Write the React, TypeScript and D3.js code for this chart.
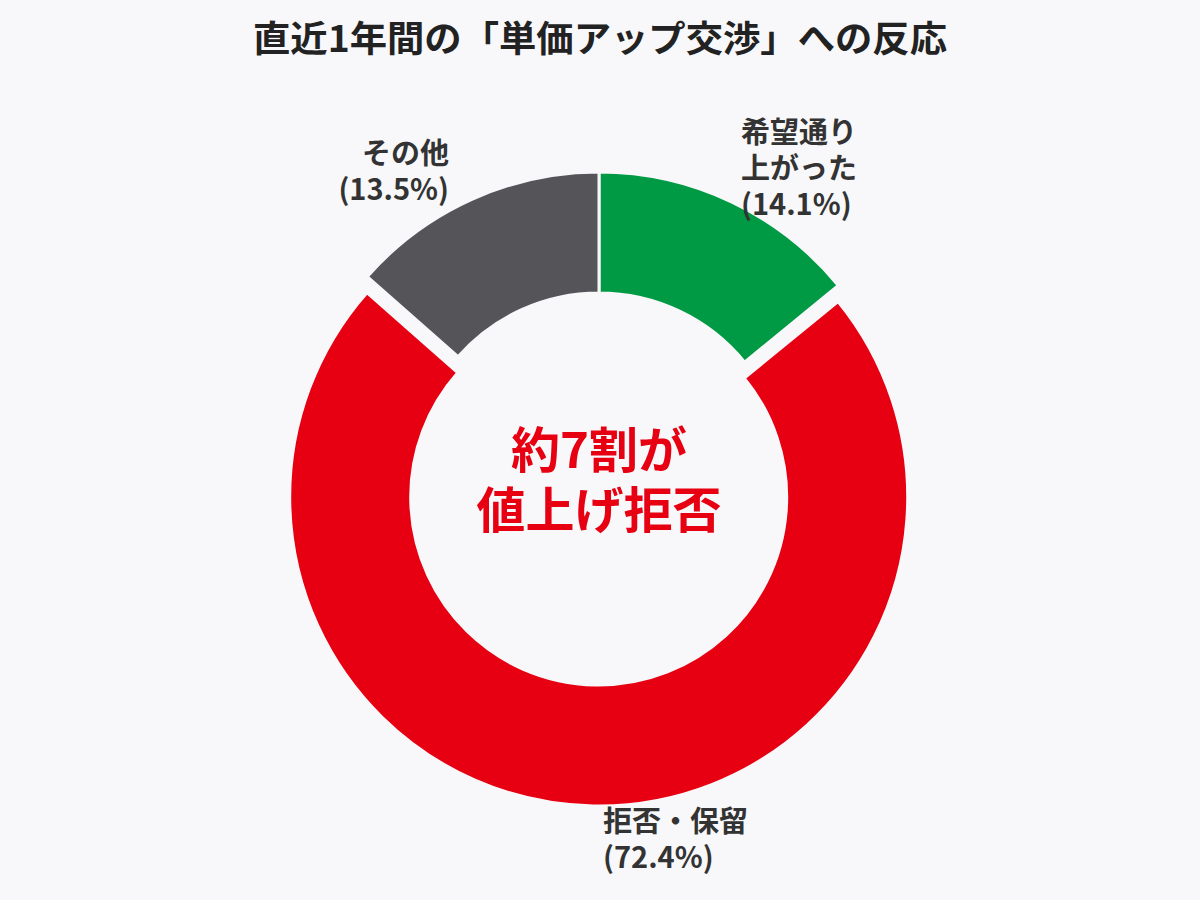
import { useEffect, useRef } from "react";
import * as d3 from "d3";

// slices clockwise from 12 o'clock
const categories = ["希望通り上がった", "拒否・保留", "その他"];
const labelLines = [["希望通り", "上がった"], ["拒否・保留"], ["その他"]];
const values = [14.1, 72.4, 13.5];
const colors = ["#009944", "#e60012", "#555458"];
const centerLines = ["約7割が", "値上げ拒否"];
const title = "直近1年間の「単価アップ交渉」への反応";

const W = 1200;
const H = 900;
const BG = "#f8f8fa";
const FONT = "'Noto Sans CJK JP', 'Noto Sans', sans-serif";

type Slice = { name: string; value: number; color: string; lines: string[] };

export default function App(): JSX.Element {
  const ref = useRef<SVGSVGElement | null>(null);

  useEffect(() => {
    if (!ref.current) return;
    const svg = d3.select(ref.current);
    svg.selectAll("*").remove();

    svg.append("rect").attr("width", W).attr("height", H).attr("fill", BG);

    svg
      .append("text")
      .attr("x", 600)
      .attr("y", 52)
      .attr("text-anchor", "middle")
      .attr("font-family", FONT)
      .attr("font-weight", 700)
      .attr("font-size", 36)
      .attr("textLength", 694)
      .attr("lengthAdjust", "spacingAndGlyphs")
      .attr("fill", "#222")
      .text(title);

    const data: Slice[] = categories.map((name, i) => ({
      name,
      value: values[i],
      color: colors[i],
      lines: labelLines[i],
    }));

    const cx = 599;
    const cy = 481;
    const outer = 309;
    const inner = 188;
    const pull = 16; // the red slice is pulled out

    const pie = d3
      .pie<Slice>()
      .sort(null)
      .value((d) => d.value);
    const arcs = pie(data);
    const arc = d3.arc<d3.PieArcDatum<Slice>>().innerRadius(inner).outerRadius(outer);

    const g = svg.append("g").attr("transform", `translate(${cx},${cy})`);
    g.selectAll("path")
      .data(arcs)
      .join("path")
      .attr("d", arc)
      .attr("fill", (d) => d.data.color)
      .attr("stroke", BG)
      .attr("stroke-width", 3)
      .attr("transform", (d) => {
        if (d.data.name !== "拒否・保留") return null;
        const mid = (d.startAngle + d.endAngle) / 2;
        return `translate(${pull * Math.sin(mid)},${-pull * Math.cos(mid)})`;
      });

    // labels outside the ring
    const labelPos: Record<string, { x: number; y: number; anchor: string }> = {
      "希望通り上がった": { x: 741, y: 143, anchor: "start" },
      "拒否・保留": { x: 603, y: 832, anchor: "start" },
      "その他": { x: 449, y: 164, anchor: "end" },
    };
    const lineH = 36;
    arcs.forEach((d) => {
      const p = labelPos[d.data.name];
      const lines = [...d.data.lines, `(${d3.format(".1f")(d.data.value)}%)`];
      const t = svg
        .append("text")
        .attr("x", p.x)
        .attr("y", p.y)
        .attr("text-anchor", p.anchor)
        .attr("font-family", FONT)
        .attr("font-weight", 700)
        .attr("font-size", 29)
        .attr("fill", "#333");
      lines.forEach((l, i) => {
        t.append("tspan")
          .attr("x", p.x)
          .attr("dy", i === 0 ? 0 : lineH)
          .text(l);
      });
    });

    // center message
    const ct = svg
      .append("text")
      .attr("x", 599)
      .attr("y", 468)
      .attr("text-anchor", "middle")
      .attr("font-family", FONT)
      .attr("font-weight", 700)
      .attr("font-size", 49)
      .attr("fill", "#e60012");
    centerLines.forEach((l, i) => {
      ct.append("tspan")
        .attr("x", 599)
        .attr("dy", i === 0 ? 0 : 60)
        .text(l);
    });
  }, []);

  return (
    <div style={{ position: "fixed", left: 0, top: 0, width: W, height: H }}>
      <svg ref={ref} width={W} height={H} style={{ display: "block" }} />
    </div>
  );
}
